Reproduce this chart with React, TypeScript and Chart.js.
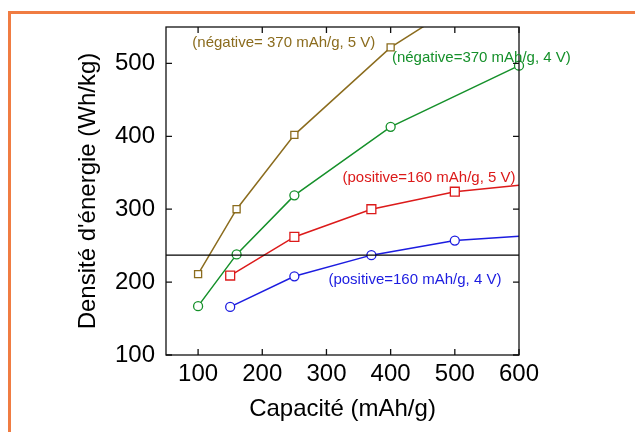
import React, { useEffect, useRef } from "react";
import { Chart, registerables } from "chart.js";

Chart.register(...registerables);

// ---- data ----
const xTickValues = [100, 200, 300, 400, 500, 600];
const yTickValues = [100, 200, 300, 400, 500];

const neg5X = [100, 160, 250, 400, 500];
const neg5Y = [211, 300, 402, 522, 578];
const neg4X = [100, 160, 250, 400, 600];
const neg4Y = [167, 238, 319, 413, 497];
const pos5X = [150, 250, 370, 500, 600];
const pos5Y = [209, 262, 300, 324, 333];
const pos4X = [150, 250, 370, 500, 600];
const pos4Y = [166, 208, 237, 257, 263];
const refLevel = 237;

const seriesNames = [
  "(négative= 370 mAh/g, 5 V)",
  "(négative=370 mAh/g, 4 V)",
  "(positive=160 mAh/g, 5 V)",
  "(positive=160 mAh/g, 4 V)",
];
// label anchors in data coordinates (left edge, vertical middle)
const labelAnchorX = [91, 402, 325, 303];
const labelAnchorY = [528, 508, 343, 203];

const COLORS = ["#8b6c1e", "#15902a", "#dc1a1a", "#1c1ce0"];
const FONT = "'Liberation Sans', Arial, Helvetica, sans-serif";

const pts = (xs: number[], ys: number[]) => xs.map((x, i) => ({ x, y: ys[i] }));

const framePlugin = {
  id: "frameTicks",
  afterDatasetsDraw(chart: any) {
    const { ctx, chartArea: a, scales } = chart;
    const xs = scales.x;
    const ys = scales.y;
    ctx.save();
    ctx.strokeStyle = "#111";
    ctx.lineWidth = 1.3;
    ctx.strokeRect(a.left, a.top, a.right - a.left, a.bottom - a.top);
    const L = 6;
    ctx.beginPath();
    xTickValues.forEach((v) => {
      const px = xs.getPixelForValue(v);
      ctx.moveTo(px, a.bottom);
      ctx.lineTo(px, a.bottom - L);
      ctx.moveTo(px, a.top);
      ctx.lineTo(px, a.top + L);
    });
    yTickValues.forEach((v) => {
      const py = ys.getPixelForValue(v);
      ctx.moveTo(a.left, py);
      ctx.lineTo(a.left + L, py);
      ctx.moveTo(a.right, py);
      ctx.lineTo(a.right - L, py);
    });
    ctx.stroke();
    // series labels
    ctx.font = `15px ${FONT}`;
    ctx.textBaseline = "middle";
    ctx.textAlign = "left";
    seriesNames.forEach((t, i) => {
      ctx.fillStyle = COLORS[i];
      ctx.fillText(t, xs.getPixelForValue(labelAnchorX[i]), ys.getPixelForValue(labelAnchorY[i]));
    });
    ctx.restore();
  },
};

export default function App() {
  const ref = useRef<HTMLCanvasElement | null>(null);

  useEffect(() => {
    if (!ref.current) return;
    const mk = (
      xs: number[],
      ys: number[],
      color: string,
      style: string,
      r: number,
      hideLast: boolean,
      clip: any
    ) => ({
      data: pts(xs, ys),
      borderColor: color,
      backgroundColor: "#ffffff",
      pointBackgroundColor: "#ffffff",
      pointBorderColor: color,
      pointBorderWidth: 1.3,
      pointStyle: style,
      pointRadius: xs.map((_, i) => (hideLast && i === xs.length - 1 ? 0 : r)),
      borderWidth: 1.5,
      showLine: true,
      tension: 0,
      fill: false,
      clip,
    });

    const chart = new Chart(ref.current, {
      type: "scatter",
      data: {
        datasets: [
          {
            data: [
              { x: 50, y: refLevel },
              { x: 600, y: refLevel },
            ],
            borderColor: "#000",
            borderWidth: 1.3,
            pointRadius: 0,
            showLine: true,
            fill: false,
          } as any,
          mk(neg5X, neg5Y, COLORS[0], "rect", 5, false, undefined),
          mk(neg4X, neg4Y, COLORS[1], "circle", 4.5, false, false),
          mk(pos5X, pos5Y, COLORS[2], "rect", 6.3, true, false),
          mk(pos4X, pos4Y, COLORS[3], "circle", 4.5, true, false),
        ],
      },
      options: {
        animation: false,
        responsive: false,
        devicePixelRatio: 1,
        layout: { padding: { top: 27, right: 116, left: 0, bottom: 0 } },
        plugins: { legend: { display: false }, tooltip: { enabled: false } },
        scales: {
          x: {
            type: "linear",
            min: 50,
            max: 600,
            grid: { display: false, drawTicks: false },
            border: { display: false },
            ticks: {
              stepSize: 100,
              includeBounds: false,
              color: "#000",
              padding: 5,
              font: { family: FONT, size: 24 },
              maxRotation: 0,
            },
            title: {
              display: true,
              text: "Capacité (mAh/g)",
              color: "#000",
              font: { family: FONT, size: 24 },
              padding: { top: 0, bottom: 8 },
            },
            afterFit: (s: any) => {
              s.height = 77;
            },
          },
          y: {
            type: "linear",
            min: 100,
            max: 550,
            grid: { display: false, drawTicks: false },
            border: { display: false },
            ticks: {
              stepSize: 100,
              includeBounds: false,
              color: "#000",
              padding: 11,
              font: { family: FONT, size: 24 },
            },
            title: {
              display: true,
              text: "Densité d'énergie (Wh/kg)",
              color: "#000",
              font: { family: FONT, size: 24 },
              padding: { top: 74, bottom: 0 },
            },
            afterFit: (s: any) => {
              s.width = 166;
            },
          },
        },
      } as any,
      plugins: [framePlugin],
    });
    return () => chart.destroy();
  }, []);

  return (
    <div
      style={{
        position: "absolute",
        left: 0,
        top: 0,
        width: 635,
        height: 432,
        overflow: "hidden",
        background: "#fff",
      }}
    >
      <div
        style={{
          position: "absolute",
          left: 8,
          top: 11,
          width: 700,
          height: 500,
          borderTop: "3px solid #f07c42",
          borderLeft: "3px solid #f07c42",
        }}
      />
      <canvas
        ref={ref}
        width={635}
        height={432}
        style={{ position: "absolute", left: 0, top: 0, width: 635, height: 432 }}
      />
    </div>
  );
}
